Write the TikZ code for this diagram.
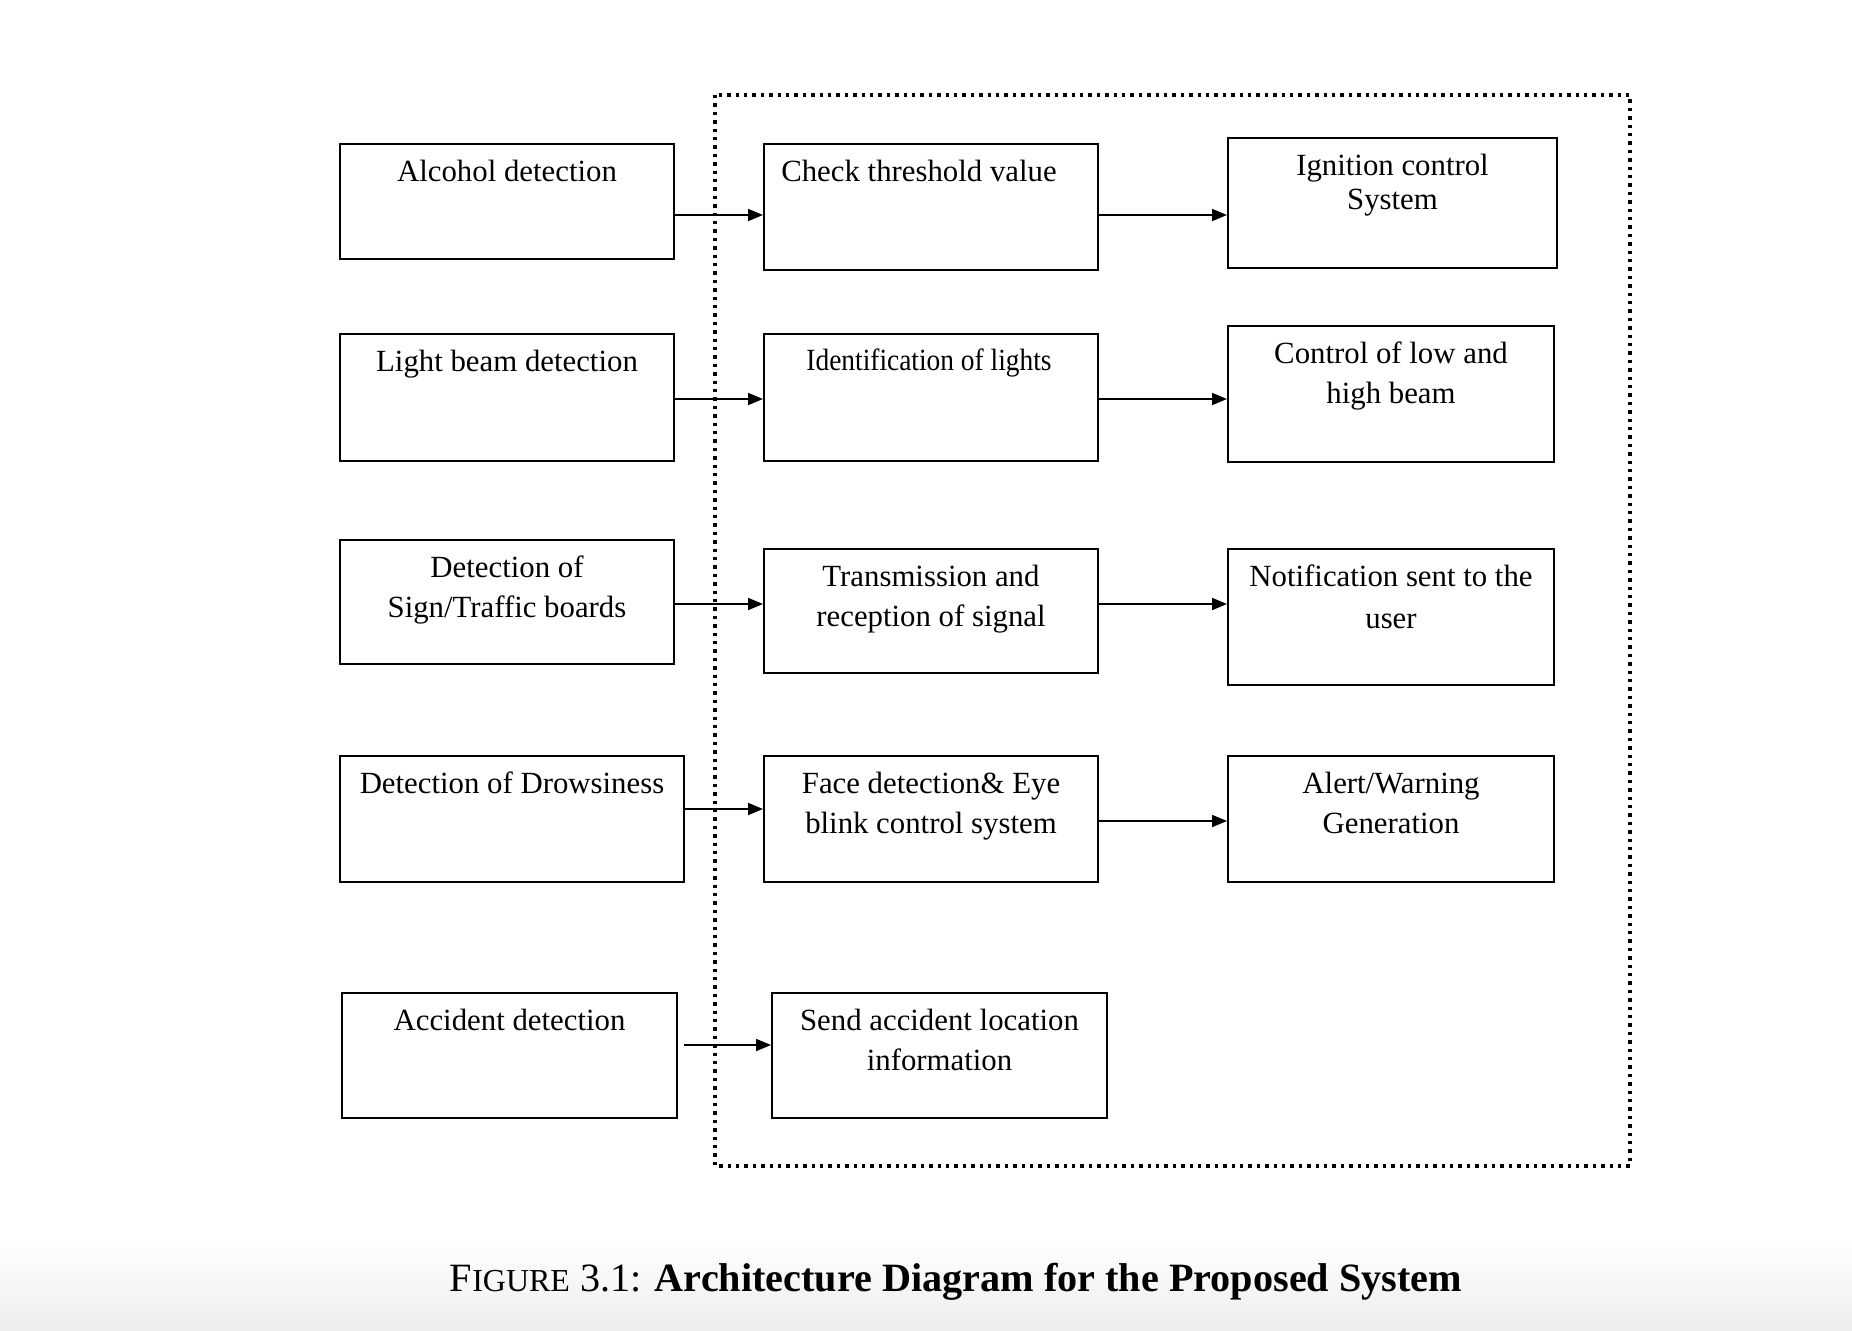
\documentclass[tikz,border=0pt]{standalone}
\usepackage{fontspec}
\setmainfont{Liberation Serif}
\usetikzlibrary{arrows.meta}
\begin{document}
\begin{tikzpicture}[x=0.5pt,y=-0.5pt,
  box/.style={draw=black, line width=1pt, inner sep=0pt, rectangle},
  lbl/.style={anchor=north, align=center, inner sep=0pt, font=\fontsize{15.4}{20}\selectfont},
  arr/.style={line width=0.9pt, -{Triangle[length=7.5pt,width=6pt]}},
  frm/.style={line width=1.7pt, dash pattern=on 1.7pt off 2.5pt}]
\useasboundingbox (0,0) rectangle (1852,1330);
\shade[top color=white, bottom color=black!7] (0,1240) rectangle (1852,1330);

% dotted frame
\draw[frm] (715,95) rectangle (1630,1166);

% left column
\node[box, minimum width=167pt, minimum height=57.5pt] (a1) at (507,201.5) {};
\node[box, minimum width=167pt, minimum height=63.5pt] (a2) at (507,397.5) {};
\node[box, minimum width=167pt, minimum height=62pt] (a3) at (507,602) {};
\node[box, minimum width=172pt, minimum height=63pt] (a4) at (512,819) {};
\node[box, minimum width=167.5pt, minimum height=62.5pt] (a5) at (509.5,1055.5) {};

% middle column
\node[box, minimum width=167pt, minimum height=63pt] (b1) at (931,207) {};
\node[box, minimum width=167pt, minimum height=63.5pt] (b2) at (931,397.5) {};
\node[box, minimum width=167pt, minimum height=62pt] (b3) at (931,611) {};
\node[box, minimum width=167pt, minimum height=63pt] (b4) at (931,819) {};
\node[box, minimum width=167.5pt, minimum height=62.5pt] (b5) at (939.5,1055.5) {};

% right column
\node[box, minimum width=164.5pt, minimum height=65pt] (c1) at (1392.5,203) {};
\node[box, minimum width=163pt, minimum height=68pt] (c2) at (1391,394) {};
\node[box, minimum width=163pt, minimum height=68pt] (c3) at (1391,617) {};
\node[box, minimum width=163pt, minimum height=63pt] (c4) at (1391,819) {};

% texts
\node[lbl] (ta1) at ([yshift=-5.1pt]a1.north) {\strut Alcohol detection};
\node[lbl] (ta2) at ([yshift=-5.1pt]a2.north) {\strut Light beam detection};
\node[lbl] (ta3) at ([yshift=-5.1pt]a3.north) {\strut Detection of\\Sign/Traffic boards};
\node[lbl] (ta4) at ([yshift=-5.1pt]a4.north) {\strut Detection of Drowsiness};
\node[lbl] (ta5) at ([yshift=-5.1pt]a5.north) {\strut Accident detection};

\node[lbl] (tb1) at ([xshift=-6pt,yshift=-5.1pt]b1.north) {\strut Check threshold value};
\node[lbl] (tb2) at ([xshift=-1pt,yshift=-4.3pt]b2.north) {\strut\scalebox{0.89}[1]{Identification of lights}};
\node[lbl] (tb3) at ([yshift=-5.1pt]b3.north) {\strut Transmission and\\reception of signal};
\node[lbl] (tb4) at ([yshift=-5.1pt]b4.north) {\strut Face detection\& Eye\\blink control system};
\node[lbl] (tb5) at ([yshift=-5.1pt]b5.north) {\strut Send accident location\\information};

\node[lbl] (tc1) at ([yshift=-5.1pt]c1.north) {\strut Ignition control\\[-3pt]System};
\node[lbl] (tc2) at ([yshift=-5.1pt]c2.north) {\strut Control of low and\\high beam};
\node[lbl] (tc3) at ([yshift=-5.1pt]c3.north) {\strut Notification sent to the\\[1pt]user};
\node[lbl] (tc4) at ([yshift=-5.1pt]c4.north) {\strut Alert/Warning\\Generation};

% arrows
\draw[arr] (a1.east |- 0,215) -- (b1.west |- 0,215);
\draw[arr] (b1.east |- 0,215) -- (c1.west |- 0,215);
\draw[arr] (a2.east |- 0,399) -- (b2.west |- 0,399);
\draw[arr] (b2.east |- 0,399) -- (c2.west |- 0,399);
\draw[arr] (a3.east |- 0,604) -- (b3.west |- 0,604);
\draw[arr] (b3.east |- 0,604) -- (c3.west |- 0,604);
\draw[arr] (a4.east |- 0,809) -- (b4.west |- 0,809);
\draw[arr] (b4.east |- 0,821) -- (c4.west |- 0,821);
\coordinate (s5) at (684,1045);
\draw[arr] (s5) -- (b5.west |- s5);

% caption
\node[anchor=base, inner sep=0pt, font=\fontsize{20.1}{24}\selectfont] (cap) at (956,1291)
  {F{\fontsize{16}{20}\selectfont IGURE} 3.1: \textbf{Architecture Diagram for the Proposed System}};
\end{tikzpicture}
\end{document}
